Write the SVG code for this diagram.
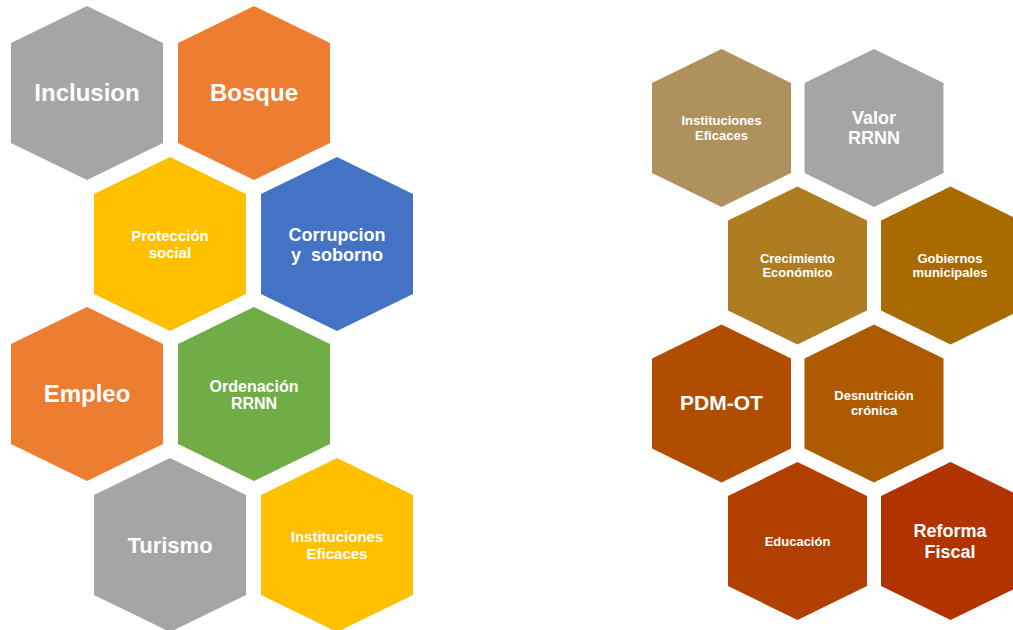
<svg xmlns="http://www.w3.org/2000/svg" xmlns:xlink="http://www.w3.org/1999/xlink" width="1013" height="630" viewBox="0 0 1013 630">
<defs>
<polygon id="hexL" points="0,-87 76,-50 76,50 0,87 -76,50 -76,-50"/>
<polygon id="hexR" points="0,-79 69.5,-45 69.5,45 0,79 -69.5,45 -69.5,-45"/>
</defs>
<style>
text{font-family:"Liberation Sans",Arial,sans-serif;font-weight:bold;fill:#ffffff;text-anchor:middle}
.xl{font-size:24px}.l{font-size:18px}.m{font-size:15px}.s{font-size:13px}
</style>
<rect width="1013" height="630" fill="#ffffff"/>
<g id="connectors"/>
<g id="inclusion"><use href="#hexL" x="87" y="93" fill="#A5A5A5"/><text class="xl" x="87" y="101">Inclusion</text></g>
<g id="bosque"><use href="#hexL" x="254" y="93" fill="#ED7D31"/><text class="xl" x="254" y="101">Bosque</text></g>
<g id="proteccion"><use href="#hexL" x="170" y="244" fill="#FFC000"/><text class="m" x="170" y="241">Protección</text><text class="m" x="170" y="258">social</text></g>
<g id="corrupcion"><use href="#hexL" x="337" y="244" fill="#4472C4"/><text class="l" x="337" y="241">Corrupcion</text><text class="l" x="337" y="261" xml:space="preserve">y  soborno</text></g>
<g id="empleo"><use href="#hexL" x="87" y="394" fill="#ED7D31"/><text class="xl" x="87" y="402">Empleo</text></g>
<g id="ordenacion"><use href="#hexL" x="254" y="394" fill="#70AD47"/><text class="m" x="254" y="392" style="font-size:16px">Ordenación</text><text class="m" x="254" y="409" style="font-size:16px">RRNN</text></g>
<g id="turismo"><use href="#hexL" x="170" y="545" fill="#A5A5A5"/><text class="xl" x="170" y="553" style="font-size:22px">Turismo</text></g>
<g id="instituciones-l"><use href="#hexL" x="337" y="545" fill="#FFC000"/><text class="m" x="337" y="542">Instituciones</text><text class="m" x="337" y="559">Eficaces</text></g>
<g id="instituciones-r"><use href="#hexR" x="721.5" y="128" fill="#AF915E"/><text class="s" x="721.5" y="125">Instituciones</text><text class="s" x="721.5" y="140">Eficaces</text></g>
<g id="valor"><use href="#hexR" x="874" y="128" fill="#A5A5A5"/><text class="l" x="874" y="124">Valor</text><text class="l" x="874" y="144">RRNN</text></g>
<g id="crecimiento"><use href="#hexR" x="797.5" y="265.5" fill="#AE7D22"/><text class="s" x="797.5" y="263">Crecimiento</text><text class="s" x="797.5" y="277">Económico</text></g>
<g id="gobiernos"><use href="#hexR" x="950.5" y="265.5" fill="#A96A00"/><text class="s" x="950" y="263">Gobiernos</text><text class="s" x="950" y="277">municipales</text></g>
<g id="pdm"><use href="#hexR" x="721.5" y="403.5" fill="#B04D00"/><text x="721.5" y="410" style="font-size:21px">PDM-OT</text></g>
<g id="desnutricion"><use href="#hexR" x="874" y="403.5" fill="#AE5A00"/><text class="s" x="874" y="400">Desnutrición</text><text class="s" x="874" y="415">crónica</text></g>
<g id="educacion"><use href="#hexR" x="797.5" y="541" fill="#B03F00"/><text class="s" x="797.5" y="546">Educación</text></g>
<g id="reforma"><use href="#hexR" x="950.5" y="541" fill="#B13400"/><text class="l" x="950" y="537">Reforma</text><text class="l" x="950" y="558">Fiscal</text></g>
</svg>
